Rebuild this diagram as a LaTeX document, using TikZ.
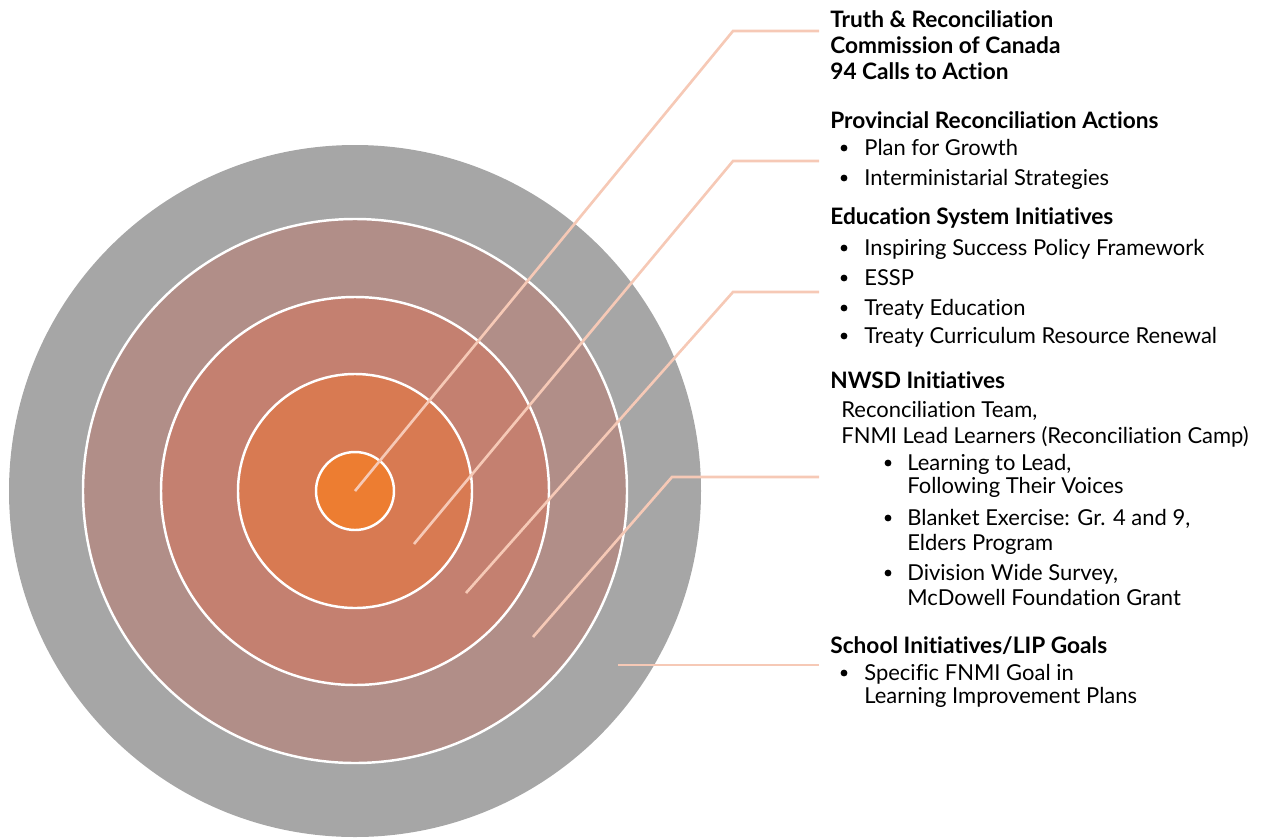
\documentclass[tikz,border=0pt]{standalone}
\usepackage{fontspec}
\setmainfont{Lato}[Ligatures={NoCommon,NoRare}]
\usepackage{tikz}
\usetikzlibrary{positioning,calc}

\definecolor{outergray}{HTML}{A6A6A6}
\definecolor{ringtwo}{HTML}{B18E88}
\definecolor{ringthree}{HTML}{C48070}
\definecolor{ringfour}{HTML}{D87A52}
\definecolor{corefill}{HTML}{ED7D31}
\definecolor{leadline}{HTML}{F6C9B6}

\tikzset{
  ring/.style = {draw=white, line width=1.4pt},
  leader/.style = {draw=leadline, line width=1.5pt},
  head/.style = {anchor=base west, inner sep=0pt, font=\fontsize{12.9}{15}\selectfont\bfseries},
  txt/.style = {anchor=base west, inner sep=0pt, font=\fontsize{12.5}{15}\selectfont},
  dot/.style = {circle, fill=black, inner sep=0pt, minimum size=3.9pt}
}

\begin{document}
\begin{tikzpicture}[x=0.02cm, y=-0.02cm]
\useasboundingbox (0,0) rectangle (1265,839);

% target rings, outside in
\fill[outergray] (355,491) circle[radius=346];
\path[ring, fill=ringtwo] (355,491) circle[radius=272];
\path[ring, fill=ringthree] (355,491) circle[radius=194];
\path[ring, fill=ringfour] (355,491) circle[radius=117];
\path[ring, fill=corefill] (355,491) circle[radius=39];

% leader lines
\coordinate (s1) at (355,491); \coordinate (k1) at (733,31);  \coordinate (e1) at (819,31);
\coordinate (s2) at (414,544); \coordinate (k2) at (733,161); \coordinate (e2) at (819,161);
\coordinate (s3) at (466,593); \coordinate (k3) at (733,292); \coordinate (e3) at (819,292);
\coordinate (s4) at (533,637); \coordinate (k4) at (672,477); \coordinate (e4) at (819,477);
\coordinate (s5) at (618,665); \coordinate (e5) at (819,665);
\draw[leader] (s1) -- (k1) -- (e1);
\draw[leader] (s2) -- (k2) -- (e2);
\draw[leader] (s3) -- (k3) -- (e3);
\draw[leader] (s4) -- (k4) -- (e4);
\draw[leader] (s5) -- (e5);

% labels
\node[head] (trc1) at (830,27) {Truth \& Reconciliation};
\node[head] (trc2) at (830,53) {Commission of Canada};
\node[head] (trc3) at (830,79) {94 Calls to Action};

\node[head] (prov) at (830,128) {Provincial Reconciliation Actions};
\node[dot] (pb1) at (844,148) {}; \node[txt] (pi1) at (864,155) {Plan for Growth};
\node[dot] (pb2) at (844,178) {}; \node[txt] (pi2) at (864,185) {Interministarial Strategies};

\node[head] (edu) at (830,224) {Education System Initiatives};
\node[dot] (eb1) at (844,248) {}; \node[txt] (ei1) at (864,255) {Inspiring Success Policy Framework};
\node[dot] (eb2) at (844,278) {}; \node[txt] (ei2) at (864,285) {ESSP};
\node[dot] (eb3) at (844,308) {}; \node[txt] (ei3) at (864,315) {Treaty Education};
\node[dot] (eb4) at (844,336) {}; \node[txt] (ei4) at (864,343) {Treaty Curriculum Resource Renewal};

\node[head] (nwsd) at (830,388) {NWSD Initiatives};
\node[txt] (nt1) at (841,417) {Reconciliation Team,};
\node[txt] (nt2) at (841,443) {FNMI Lead Learners (Reconciliation Camp)};
\node[dot] (nb1) at (888,463) {}; \node[txt] (ni1) at (907,470) {Learning to Lead,};
\node[txt] (ni1b) at (907,493) {Following Their Voices};
\node[dot] (nb2) at (888,518) {}; \node[txt] (ni2) at (907,525) {Blanket Exercise: Gr. 4 and 9,};
\node[txt] (ni2b) at (907,550) {Elders Program};
\node[dot] (nb3) at (888,573) {}; \node[txt] (ni3) at (907,580) {Division Wide Survey,};
\node[txt] (ni3b) at (907,605) {McDowell Foundation Grant};

\node[head] (lip) at (830,653) {School Initiatives/LIP Goals};
\node[dot] (lb1) at (844,673) {}; \node[txt] (li1) at (864,680) {Specific FNMI Goal in};
\node[txt] (li1b) at (864,703) {Learning Improvement Plans};
\end{tikzpicture}
\end{document}
